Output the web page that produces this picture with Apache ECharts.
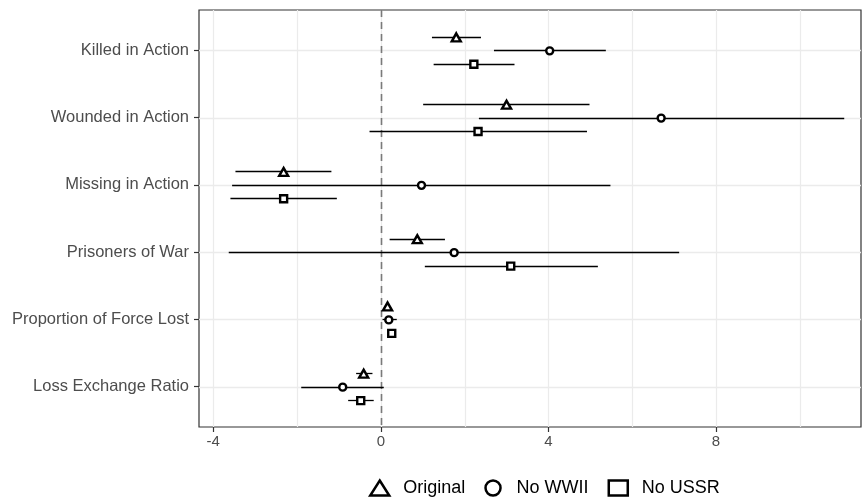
<!DOCTYPE html>
<html>
<head>
<meta charset="utf-8">
<script src="https://cdn.jsdelivr.net/npm/echarts@6/dist/echarts.min.js"></script>
<style>
  html, body { margin: 0; padding: 0; background: #fff; }
</style>
</head>
<body>
<div id="main" style="width: 862px; height: 500px;"></div>
<script>
    // outcomes, top to bottom
    var categories = ['Killed in Action', 'Wounded in Action', 'Missing in Action',
        'Prisoners of War', 'Proportion of Force Lost', 'Loss Exchange Ratio'];

    // Original sample
    var originalEst = [1.80, 3.00, -2.32, 0.87, 0.16, -0.41];
    var originalLo  = [1.22, 1.01, -3.47, 0.21, 0.10, -0.59];
    var originalHi  = [2.39, 4.98, -1.18, 1.53, 0.22, -0.20];

    // without WWII
    var noWWIIEst = [4.03, 6.69, 0.97, 1.75, 0.19, -0.91];
    var noWWIILo  = [2.70, 2.34, -3.55, -3.63, 0.04, -1.90];
    var noWWIIHi  = [5.37, 11.06, 5.48, 7.12, 0.38, 0.07];

    // without USSR
    var noUSSREst = [2.22, 2.32, -2.32, 3.10, 0.26, -0.48];
    var noUSSRLo  = [1.26, -0.27, -3.59, 1.05, 0.20, -0.78];
    var noUSSRHi  = [3.19, 4.92, -1.05, 5.18, 0.32, -0.17];

    var xTicks = [-4, 0, 4, 8];
    var xGridLines = [-4, -2, 0, 2, 4, 6, 8, 10];
    var xMin = -4.34, xMax = 11.46;
    var yMin = -0.6, yMax = 5.6;

    var groups = [
        {name: 'Original', est: originalEst, lo: originalLo, hi: originalHi, offset: -0.2, symbol: 'triangle', size: [9, 8], icon: 'triangle'},
        {name: 'No WWII', est: noWWIIEst, lo: noWWIILo, hi: noWWIIHi, offset: 0, symbol: 'circle', size: 7, icon: 'circle'},
        {name: 'No USSR', est: noUSSREst, lo: noUSSRLo, hi: noUSSRHi, offset: 0.2, symbol: 'rect', size: 7, icon: 'rect'}
    ];

    var catIdx = categories.map(function (c, i) { return i; });

    function crisp(v) { return Math.round(v) + 0.5; }

    var series = [];

    // vertical grid lines
    series.push({
        type: 'custom', silent: true, z: 1,
        data: xGridLines.map(function (v) { return [v]; }),
        encode: {x: 0},
        renderItem: function (params, api) {
            var a = api.coord([api.value(0), yMin]);
            var b = api.coord([api.value(0), yMax]);
            var x = crisp(a[0]);
            return {type: 'line', shape: {x1: x, y1: a[1], x2: x, y2: b[1]},
                style: {stroke: '#ebebeb', lineWidth: 1.2}};
        }
    });
    // horizontal grid lines at each outcome
    series.push({
        type: 'custom', silent: true, z: 1,
        data: catIdx.map(function (i) { return [i]; }),
        encode: {y: 0},
        renderItem: function (params, api) {
            var a = api.coord([xMin, api.value(0)]);
            var b = api.coord([xMax, api.value(0)]);
            var y = crisp(a[1]);
            return {type: 'line', shape: {x1: a[0], y1: y, x2: b[0], y2: y},
                style: {stroke: '#ebebeb', lineWidth: 1.3}};
        }
    });
    // zero reference
    series.push({
        type: 'custom', silent: true, z: 2,
        data: [[0]],
        encode: {x: 0},
        renderItem: function (params, api) {
            var a = api.coord([api.value(0), yMin]);
            var b = api.coord([api.value(0), yMax]);
            var x = crisp(a[0]);
            return {type: 'line', shape: {x1: x, y1: a[1], x2: x, y2: b[1]},
                style: {stroke: '#7a7a7a', lineWidth: 1.6, lineDash: [7, 5]}};
        }
    });

    groups.forEach(function (g) {
        var bars = categories.map(function (c, i) { return [g.lo[i], g.hi[i], i + g.offset]; });
        var pts = categories.map(function (c, i) { return [g.est[i], i + g.offset]; });
        series.push({
            name: g.name,
            type: 'custom',
            z: 3,
            data: bars,
            encode: {x: [0, 1], y: 2},
            renderItem: function (params, api) {
                var a = api.coord([api.value(0), api.value(2)]);
                var b = api.coord([api.value(1), api.value(2)]);
                var y = crisp(a[1]);
                return {
                    type: 'line',
                    shape: {x1: a[0], y1: y, x2: b[0], y2: y},
                    style: {stroke: '#000', lineWidth: 1.3}
                };
            }
        });
        series.push({
            name: g.name,
            type: 'scatter',
            z: 4,
            symbol: g.symbol,
            symbolSize: g.size,
            symbolOffset: [0, 0.5],
            itemStyle: {color: '#fff', borderColor: '#000', borderWidth: 2.4, opacity: 1},
            data: pts
        });
    });

    var option = {
        animation: false,
        backgroundColor: '#fff',
        grid: {
            left: 199, right: 1, top: 10, bottom: 73,
            show: true, borderColor: '#333333', borderWidth: 1.2, backgroundColor: '#fff'
        },
        legend: {
            left: 364, top: 474,
            itemWidth: 19, itemHeight: 15, itemGap: 19,
            textStyle: {fontSize: 18, color: '#000', fontFamily: 'Liberation Sans', padding: [0, 0, 0, 9]},
            itemStyle: {color: 'rgba(0,0,0,0)', borderColor: '#000', borderWidth: 2.5},
            data: groups.map(function (g) {
                return {name: g.name, icon: g.icon,
                    itemStyle: {color: 'rgba(0,0,0,0)', borderColor: '#000', borderWidth: 2.5}};
            })
        },
        xAxis: {
            type: 'value',
            min: xMin, max: xMax,
            axisLine: {show: false, onZero: false},
            axisTick: {show: true, customValues: xTicks, length: 5, lineStyle: {color: '#333', width: 1.2}},
            axisLabel: {customValues: xTicks, color: '#4d4d4d', fontSize: 15, fontFamily: 'Liberation Sans', margin: 7},
            splitLine: {show: false}
        },
        yAxis: {
            type: 'value',
            inverse: true,
            min: yMin, max: yMax,
            axisLine: {show: false, onZero: false},
            axisTick: {show: true, customValues: catIdx, length: 5, lineStyle: {color: '#333', width: 1.2}},
            axisLabel: {
                customValues: catIdx, color: '#4d4d4d', fontSize: 16.5, fontFamily: 'Liberation Sans', margin: 10,
                formatter: function (v) { return categories[Math.round(v)]; }
            },
            splitLine: {show: false}
        },
        series: series
    };

    var myChart = echarts.init(document.getElementById('main'));
    myChart.setOption(option);
</script>
</body>
</html>
